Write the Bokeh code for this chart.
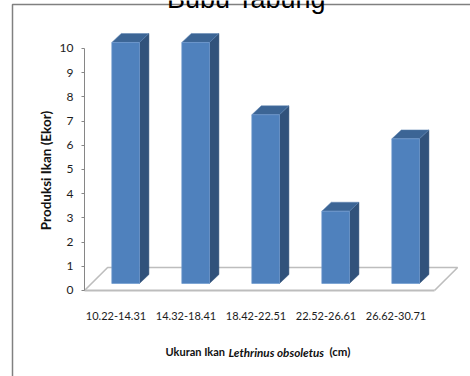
from bokeh.plotting import figure
from bokeh.models import Label, BoxAnnotation, FixedTicker, Range1d
from bokeh.embed import file_html
from bokeh.resources import INLINE

categories = ["10.22-14.31", "14.32-18.41", "18.42-22.51", "22.52-26.61", "26.62-30.71"]
values = [10, 10, 7, 3, 6]
y_ticks = list(range(0, 11))
title_text = "Bubu Tabung"
y_title = "Produksi Ikan (Ekor)"

FRONT, SIDE, TOP = "#4F81BD", "#31527B", "#3C6595"
GREY = "#BDBDBD"
FONT = "Lato"

p = figure(width=470, height=376, output_backend="svg", toolbar_location=None,
           x_range=Range1d(-1.2, 5.514), y_range=Range1d(-3.554, 11.983),
           min_border_left=0, min_border_right=0, min_border_top=0, min_border_bottom=0,
           outline_line_color=None, background_fill_color="white", border_fill_color="white")
p.grid.visible = False

# floor of the 3D box
fdx, fdy = 0.33, 0.95
p.patch([0, 5, 5 + fdx, fdx], [0, 0, fdy, fdy], fill_color="white", line_color=None)
p.line([0, fdx, 5 + fdx, 5], [0, fdy, fdy, 0], line_color=GREY, line_width=1.6)

# bars
offs, width, dx, dy, base = 0.39, 0.395, 0.135, 0.37, 0.29
L = [i + offs for i in range(len(values))]
R = [l + width for l in L]
T = [v * 0.996 + base for v in values]
B = [base] * len(values)
p.patches([[r, r + dx, r + dx, r] for r in R],
          [[b, b + dy, t + dy, t] for b, t in zip(B, T)],
          fill_color=SIDE, line_color=SIDE, line_width=0.5)
p.patches([[l, r, r + dx, l + dx] for l, r in zip(L, R)],
          [[t, t, t + dy, t + dy] for t in T],
          fill_color=TOP, line_color="#5F84B3", line_width=0.5)
p.quad(left=L, right=R, bottom=B, top=T, fill_color=FRONT, line_color="#6E9AD0", line_width=0.7)

# axes
ya = p.yaxis[0]
ya.fixed_location = 0
ya.bounds = (0, 10)
ya.ticker = FixedTicker(ticks=y_ticks)
ya.axis_line_color = "#868686"
ya.major_tick_line_color = "#868686"
ya.major_tick_in = 0
ya.major_tick_out = 3
ya.minor_tick_line_color = None
ya.major_label_text_font = FONT
ya.major_label_text_font_size = "12px"
ya.major_label_text_color = "#1c1c1c"
ya.major_label_standoff = 8

xa = p.xaxis[0]
xa.fixed_location = 0
xa.bounds = (0, 5)
xa.ticker = FixedTicker(ticks=[i + 0.45 for i in range(len(categories))])
xa.major_label_overrides = {i + 0.45: c for i, c in enumerate(categories)}
xa.axis_line_color = GREY
xa.axis_line_width = 2
xa.major_tick_line_color = None
xa.minor_tick_line_color = None
xa.major_label_text_font = FONT
xa.major_label_text_font_size = "11px"
xa.major_label_text_color = "#1c1c1c"
xa.major_label_standoff = 16

# page frame of the original picture
p.add_layout(BoxAnnotation(left=12, top=4, right=600, bottom=600,
                           left_units="canvas", right_units="canvas",
                           top_units="canvas", bottom_units="canvas",
                           fill_color=None, fill_alpha=0, line_color="#808080", line_alpha=1, line_width=1.5,
                           level="overlay"))

# titles
def lab(x, y, text, **kw):
    p.add_layout(Label(x=x, y=y, x_units="canvas", y_units="canvas", text=text, level="overlay", **kw))

lab(246, -2, title_text, text_font="Liberation Sans", text_font_size="27px",
    text_align="center", text_baseline="alphabetic", text_color="#000000")
lab(45, 170, y_title, text_font=FONT, text_font_style="bold", text_font_size="13.5px",
    angle=90, angle_units="deg", text_align="center", text_baseline="middle", text_color="#111111")
y_lab = 351
lab(165, y_lab, "Ukuran Ikan ", text_font=FONT, text_font_style="bold", text_font_size="11px",
    text_baseline="alphabetic", text_color="#111111")
lab(228, y_lab, "Lethrinus obsoletus", text_font=FONT, text_font_style="bold italic", text_font_size="11.7px",
    text_baseline="alphabetic", text_color="#111111")
lab(329, y_lab, "(cm)", text_font=FONT, text_font_style="bold", text_font_size="11.5px",
    text_baseline="alphabetic", text_color="#111111")

open("out.html", "w").write(file_html(p, INLINE))
